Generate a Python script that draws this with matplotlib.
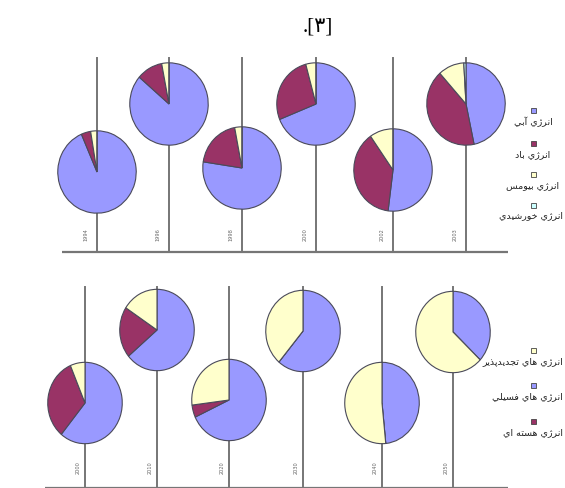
import matplotlib
matplotlib.use("Agg")
import matplotlib.pyplot as plt
from matplotlib.patches import Rectangle

# ---- data ----
top_years = ["1994", "1996", "1998", "2000", "2002", "2003"]
hydro = [93.5, 86.3, 77.4, 68.9, 52.0, 46.7]
wind = [3.9, 10.7, 19.6, 26.9, 38.3, 41.7]
biomass = [2.6, 3.0, 3.0, 4.2, 9.7, 10.7]
solar = [0.0, 0.0, 0.0, 0.0, 0.0, 0.9]
top_labels = ["انرژي آبي", "انرژي باد", "انرژي بيومس", "انرژي خورشيدي"]

bottom_years = ["2000", "2010", "2020", "2030", "2040", "2050"]
fossil = [61.0, 63.9, 68.1, 61.2, 48.4, 37.0]
nuclear = [32.6, 20.3, 4.9, 0.0, 0.0, 0.0]
renewable = [6.4, 15.8, 27.0, 38.8, 51.6, 63.0]
bottom_labels = ["انرژي هاي تجديدپذير", "انرژي هاي فسيلي", "انرژي هسته اي"]

title = ".[۳]"

# ---- style ----
BLUE, MAROON, CREAM, AQUA = "#9999FF", "#993366", "#FFFFCC", "#CCFFFF"
LINE = "#767676"
EDGE = "#4a4a5a"
W, H = 565, 488

# Arabic joining forms: (isolated, final, initial, medial)
FORMS = {
    "ا": ("\uFE8D", "\uFE8E", None, None),
    "آ": ("\uFE81", "\uFE82", None, None),
    "د": ("\uFEA9", "\uFEAA", None, None),
    "ذ": ("\uFEAB", "\uFEAC", None, None),
    "ر": ("\uFEAD", "\uFEAE", None, None),
    "ژ": ("\uFB8A", "\uFB8B", None, None),
    "و": ("\uFEED", "\uFEEE", None, None),
    "ب": ("\uFE8F", "\uFE90", "\uFE91", "\uFE92"),
    "پ": ("\uFB56", "\uFB57", "\uFB58", "\uFB59"),
    "ت": ("\uFE95", "\uFE96", "\uFE97", "\uFE98"),
    "ج": ("\uFE9D", "\uFE9E", "\uFE9F", "\uFEA0"),
    "خ": ("\uFEA5", "\uFEA6", "\uFEA7", "\uFEA8"),
    "س": ("\uFEB1", "\uFEB2", "\uFEB3", "\uFEB4"),
    "ش": ("\uFEB5", "\uFEB6", "\uFEB7", "\uFEB8"),
    "ف": ("\uFED1", "\uFED2", "\uFED3", "\uFED4"),
    "ل": ("\uFEDD", "\uFEDE", "\uFEDF", "\uFEE0"),
    "م": ("\uFEE1", "\uFEE2", "\uFEE3", "\uFEE4"),
    "ن": ("\uFEE5", "\uFEE6", "\uFEE7", "\uFEE8"),
    "ه": ("\uFEE9", "\uFEEA", "\uFEEB", "\uFEEC"),
    "ي": ("\uFEF1", "\uFEF2", "\uFEF3", "\uFEF4"),
}


def shape(text):
    """Join Arabic letters into contextual forms and return them in visual order."""
    out = []
    for i, ch in enumerate(text):
        if ch not in FORMS:
            out.append(ch)
            continue
        prev = text[i - 1] if i > 0 else ""
        nxt = text[i + 1] if i + 1 < len(text) else ""
        joins_prev = prev in FORMS and FORMS[prev][2] is not None
        joins_next = FORMS[ch][2] is not None and nxt in FORMS
        iso, fin, ini, med = FORMS[ch]
        if joins_prev and joins_next:
            out.append(med)
        elif joins_prev:
            out.append(fin)
        elif joins_next:
            out.append(ini)
        else:
            out.append(iso)
    return "".join(reversed(out))


fig = plt.figure(figsize=(W / 100, H / 100), dpi=100)
fig.patch.set_facecolor("white")
bg = fig.add_axes([0, 0, 1, 1])
bg.set_xlim(0, W)
bg.set_ylim(H, 0)
bg.axis("off")

# title
bg.text(318, 27, title, ha="center", va="center", fontsize=15,
        family=["Liberation Serif", "DejaVu Sans"], color="black")


def timeline(xs, ys, rx, ry, line_top, base_y, base_x0, base_x1,
             years, label_dx, label_y, series, colors):
    bg.plot([base_x0, base_x1], [base_y, base_y], color=LINE, lw=1.6,
            solid_capstyle="butt")
    for i, (cx, cy) in enumerate(zip(xs, ys)):
        bg.plot([cx, cx], [line_top, base_y], color=LINE, lw=1.4)
        bg.text(cx + label_dx, label_y, years[i], rotation=90, ha="center",
                va="center", fontsize=3.6, color="#666666")
        pax = fig.add_axes([(cx - rx) / W, 1 - (cy + ry) / H,
                            2 * rx / W, 2 * ry / H])
        vals = [s[i] for s in series]
        pax.pie(vals, colors=colors, startangle=90, counterclock=False,
                radius=1.0, wedgeprops=dict(edgecolor=EDGE, linewidth=0.8))
        pax.set_xlim(-1.02, 1.02)
        pax.set_ylim(-1.02, 1.02)
        pax.set_aspect("auto")
        pax.axis("off")


# top row: 1994-2003 electricity sources
timeline([97, 169, 242, 316, 393, 466], [172, 104, 168, 104, 170, 104],
         40, 42, 58, 252, 62, 508, top_years, -11, 235,
         [hydro, wind, biomass, solar], [BLUE, MAROON, CREAM, AQUA])

# bottom row: 2000-2050 outlook
timeline([85, 157, 229, 303, 382, 453], [403, 330, 400, 331, 403, 332],
         38, 41.5, 287, 488, 45, 508, bottom_years, -7, 468,
         [fossil, nuclear, renewable], [BLUE, MAROON, CREAM])

legend_texts = []


def legend(x, marker_ys, text_ys, labels, colors):
    for my, ty, lab, col in zip(marker_ys, text_ys, labels, colors):
        bg.add_patch(Rectangle((x - 2.5, my - 2.5), 5, 5, facecolor=col,
                               edgecolor="#444444", lw=0.6))
        t = bg.text(x, ty, shape(lab), ha="center", va="center", fontsize=6.8,
                    family="DejaVu Sans", color="#222222")
        legend_texts.append(t)


legend(533, [110, 143, 174, 205], [122, 155, 186, 216], top_labels,
       [BLUE, MAROON, CREAM, AQUA])
legend(533, [350, 385, 421], [362, 397, 433], bottom_labels,
       [CREAM, BLUE, MAROON])

# keep long legend labels inside the right edge
fig.canvas.draw()
renderer = fig.canvas.get_renderer()
for t in legend_texts:
    bb = t.get_window_extent(renderer)
    over = bb.x1 - (W - 2)
    if over > 0:
        x, y = t.get_position()
        t.set_position((x - over, y))

fig.savefig("out.png", dpi=100, facecolor="white")
